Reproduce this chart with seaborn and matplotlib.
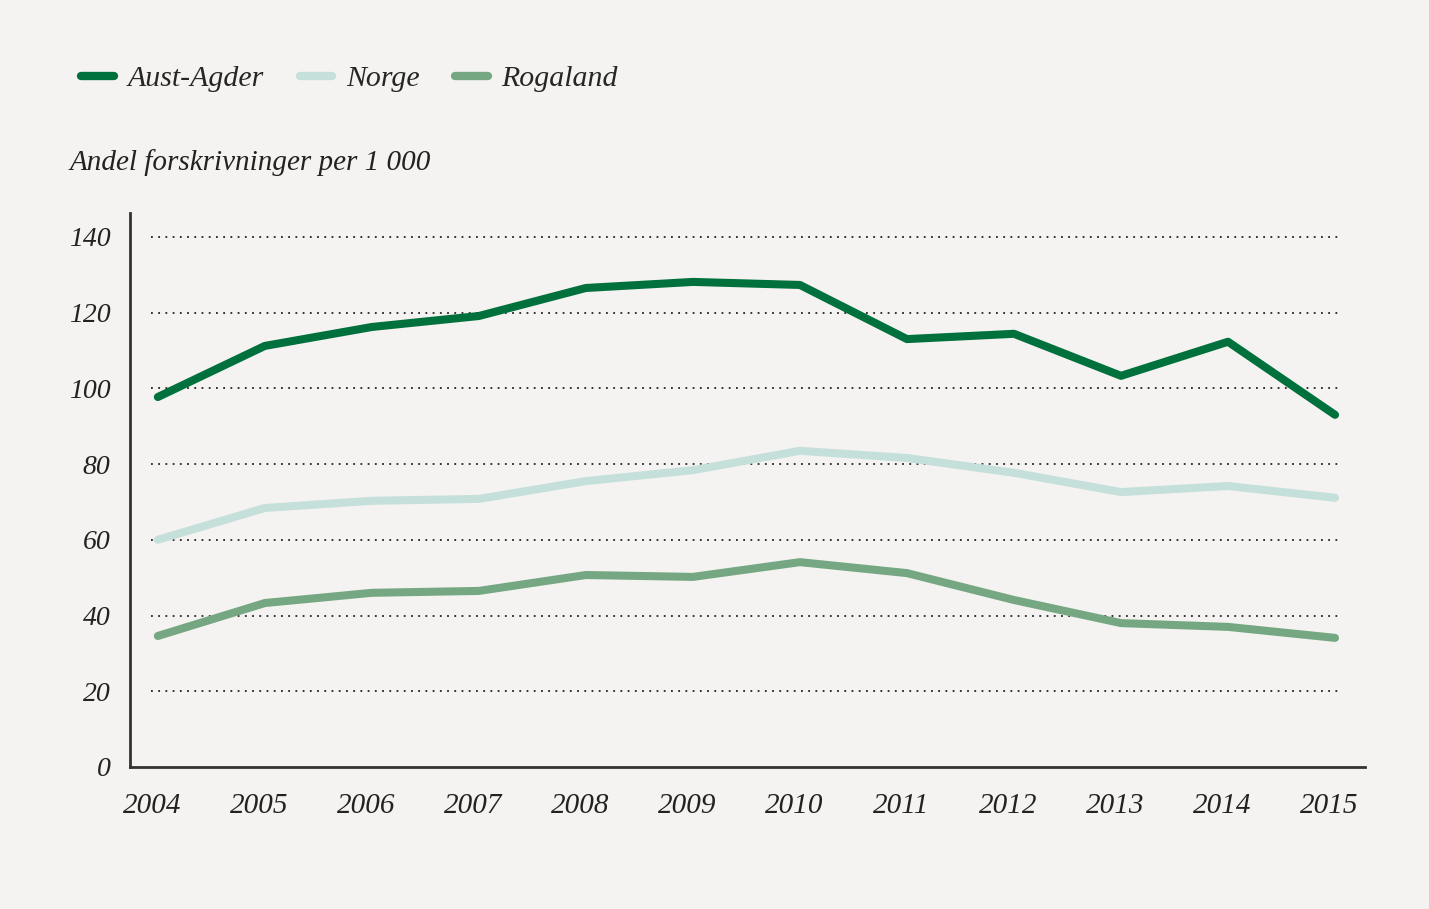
import numpy as np
import pandas as pd
import seaborn as sns
import matplotlib.pyplot as plt
import matplotlib.transforms as mtransforms

years = [2004, 2005, 2006, 2007, 2008, 2009, 2010, 2011, 2012, 2013, 2014, 2015]
aust_agder = [97.7, 111.2, 116.2, 119.1, 126.5, 128.1, 127.3, 113.0, 114.4, 103.3, 112.3, 93.0]
norge = [60.0, 68.4, 70.3, 70.8, 75.5, 78.4, 83.5, 81.6, 77.7, 72.6, 74.2, 71.1]
rogaland = [34.6, 43.3, 46.0, 46.5, 50.7, 50.2, 54.1, 51.2, 44.1, 38.0, 37.0, 34.1]
series_names = ['Aust-Agder', 'Norge', 'Rogaland']
y_ticks = [0, 20, 40, 60, 80, 100, 120, 140]

palette = {'Aust-Agder': '#00703c',
           'Norge': '#c5e0da',
           'Rogaland': '#75a882'}
bg = '#f4f3f1'

df = pd.concat([pd.DataFrame({'year': years, 'value': vals, 'region': name})
                for name, vals in zip(series_names, [aust_agder, norge, rogaland])])

sns.set_style('white')
plt.rcParams['font.family'] = ['Liberation Serif', 'DejaVu Serif']
plt.rcParams['font.style'] = 'italic'

fig = plt.figure(figsize=(14.29, 9.09), dpi=100, facecolor=bg)
ax = fig.add_axes([130 / 1429, 1 - 767 / 909, (1365 - 130) / 1429, (767 - 213) / 909])
ax.set_facecolor(bg)

# dotted gridlines, shorter than the axis
for yv in y_ticks[1:]:
    ax.plot([2003.94, 2015.05], [yv, yv], linestyle=(0, (1, 3)), color='#222222',
            linewidth=1.3, zorder=1)

sns.lineplot(data=df, x='year', y='value', hue='region', palette=palette,
             hue_order=series_names, linewidth=5.8, solid_capstyle='round',
             ax=ax, legend=False, zorder=3)

ax.set_xlim(2003.74, 2015.28)
ax.set_ylim(0, 146.3)
ax.set_xticks(years)
ax.set_xticklabels([str(y) for y in years], fontsize=21, style='italic')
ax.set_yticks(y_ticks)
ax.set_yticklabels([str(v) for v in y_ticks], fontsize=20, style='italic')
ax.tick_params(axis='x', length=0, pad=19, colors='#222222')
ax.tick_params(axis='y', length=0, pad=14, colors='#222222')
# year labels sit a little left of their points in the original
shift = mtransforms.ScaledTranslation(-6 / 100, 0, fig.dpi_scale_trans)
for lbl in ax.get_xticklabels():
    lbl.set_transform(lbl.get_transform() + shift)
ax.set_xlabel('')
ax.set_ylabel('')
for side in ['top', 'right']:
    ax.spines[side].set_visible(False)
for side in ['left', 'bottom']:
    ax.spines[side].set_color('#333333')
    ax.spines[side].set_linewidth(2)

handles = [plt.Line2D([], [], color=palette[n], linewidth=6, solid_capstyle='round')
           for n in series_names]
fig.legend(handles, series_names, loc='upper left', bbox_to_anchor=(0.038, 0.958),
           ncol=3, frameon=False, handlelength=1.1, handletextpad=0.45,
           columnspacing=1.2, prop={'style': 'italic', 'size': 21.5})

fig.text(70 / 1429, 1 - 163 / 909, 'Andel forskrivninger per 1 000', fontsize=21,
         style='italic', va='center', ha='left', color='#222222')

fig.savefig('out.png', dpi=100, facecolor=bg)
